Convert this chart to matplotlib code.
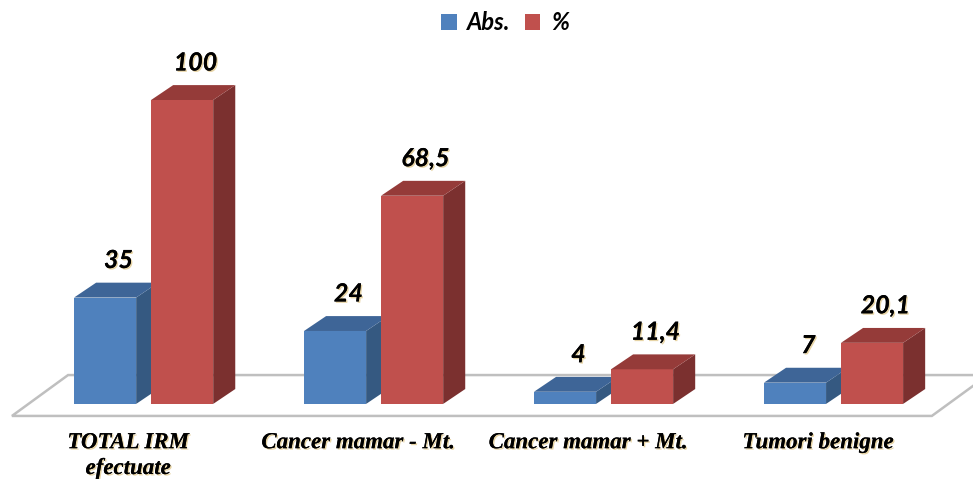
import matplotlib.pyplot as plt
from matplotlib.patches import Polygon, Patch
import matplotlib.patheffects as pe

categories = ["TOTAL IRM\nefectuate", "Cancer mamar - Mt.", "Cancer mamar + Mt.", "Tumori benigne"]
abs_values = [35, 24, 4, 7]
pct_values = [100, 68.5, 11.4, 20.1]
abs_labels = ["35", "24", "4", "7"]
pct_labels = ["100", "68,5", "11,4", "20,1"]

blue = ("#4F81BD", "#3E6597", "#355981")
red = ("#C0504D", "#953B39", "#7B302F")

fig = plt.figure(figsize=(9.73, 4.79), dpi=100)
ax = fig.add_axes([0, 0, 1, 1])
ax.set_xlim(-0.622, 3.609)
ax.set_ylim(-24.7, 132.9)
ax.axis("off")

bar_w = 0.27
dx, dy = 0.096, 4.9  # depth of bars

# floor
floor = Polygon([(-0.57, -3.95), (3.43, -3.95), (3.674, 9.5), (-0.326, 9.5)],
                closed=True, facecolor="white", edgecolor="#BFBFBF", lw=1.8, zorder=1)
ax.add_patch(floor)


def bar3d(x0, h, cols):
    front = Polygon([(x0, 0), (x0 + bar_w, 0), (x0 + bar_w, h), (x0, h)], facecolor=cols[0], lw=0, zorder=2)
    top = Polygon([(x0, h), (x0 + bar_w, h), (x0 + bar_w + dx, h + dy), (x0 + dx, h + dy)],
                  facecolor=cols[1], lw=0, zorder=2)
    side = Polygon([(x0 + bar_w, 0), (x0 + bar_w + dx, dy), (x0 + bar_w + dx, h + dy), (x0 + bar_w, h)],
                   facecolor=cols[2], lw=0, zorder=2)
    for p in (front, side, top):
        ax.add_patch(p)


shadow = [pe.withSimplePatchShadow(offset=(1, -1), shadow_rgbFace="#D8B86A", alpha=0.6), pe.Normal()]
val_font = dict(family="Lato", weight="bold", style="italic", fontsize=18, ha="center", va="bottom",
                path_effects=shadow, zorder=5)

for i in range(len(categories)):
    xb = i - 0.30
    xr = i + 0.035
    bar3d(xb, abs_values[i], blue)
    bar3d(xr, pct_values[i], red)
    ax.text(xb + bar_w / 2 + dx / 2 + 0.01, abs_values[i] + dy + 3.5, abs_labels[i], **val_font)
    ax.text(xr + bar_w / 2 + dx / 2 + 0.01, pct_values[i] + dy + 3.5, pct_labels[i], **val_font)
    ax.text(i - 0.065, -9.3, categories[i], family="Liberation Serif", weight="bold", style="italic",
            fontsize=16.5, ha="center", va="top", linespacing=1.3, path_effects=shadow)

handles = [Patch(facecolor=blue[0], label="Abs."), Patch(facecolor=red[0], label="%")]
leg = fig.legend(handles=handles, loc="center", bbox_to_anchor=(0.519, 0.953), ncol=2, frameon=False,
                 handlelength=0.65, handleheight=0.65, handletextpad=0.45, columnspacing=0.6,
                 prop=dict(family="Lato", weight="bold", style="italic", size=17))

fig.savefig("out.png", dpi=100)
